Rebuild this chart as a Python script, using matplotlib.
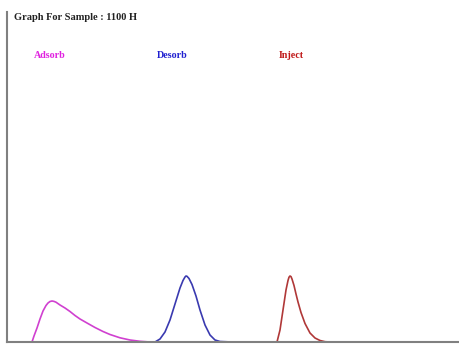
import matplotlib.pyplot as plt

# peak traces (x = time position, y = signal)
adsorb_x = [32, 34, 37, 40, 43, 46, 48, 50, 52, 54, 56, 60, 65, 70, 75, 80, 87, 95, 103, 110, 120, 130, 140, 150]
adsorb_y = [0, 6, 14, 23, 31, 36.5, 39, 40.5, 41, 40.6, 39.8, 37, 34, 30.5, 26.5, 23, 19, 14.5, 10.5, 7.5, 4.2, 2, 0.7, 0]

desorb_x = [155, 160, 165, 170, 175, 180, 183, 185, 186, 187, 189, 192, 196, 200, 205, 210, 215, 220, 232]
desorb_y = [0, 3, 10, 22, 38, 54, 61.5, 65, 66, 65.7, 63.5, 57.5, 46, 32, 17, 7, 2, 0.5, 0]

inject_x = [277, 280, 283, 286, 288, 289, 290, 291, 292, 294, 296, 298, 301, 305, 310, 315, 320, 325, 330]
inject_y = [0, 12, 32, 52, 61.5, 64.8, 66, 65.4, 63, 56.5, 48, 40, 29.5, 18.5, 9, 4, 1.5, 0.3, 0]

labels = ['Adsorb', 'Desorb', 'Inject']
label_x = [50, 172, 291]
colors = ['#d040d0', '#3a3ab0', '#b03838']
text_colors = ['#e020e0', '#2020d0', '#c01818']

fig = plt.figure(figsize=(4.6, 3.62), dpi=100)
ax = fig.add_axes([7 / 460, 20 / 362, 453 / 460, 330 / 362])

ax.plot(adsorb_x, adsorb_y, color=colors[0], lw=1.2)
ax.plot(desorb_x, desorb_y, color=colors[1], lw=1.2)
ax.plot(inject_x, inject_y, color=colors[2], lw=1.2)

ax.set_xlim(7, 460)
ax.set_ylim(0, 330)
for s in ['top', 'right']:
    ax.spines[s].set_visible(False)
for s in ['left', 'bottom']:
    ax.spines[s].set_color('#808080')
    ax.spines[s].set_linewidth(1.5)
ax.set_xticks([])
ax.set_yticks([])

ax.text(14, 324, 'Graph For Sample : 1100 H', family='Liberation Serif',
        fontweight='bold', fontsize=7.5, color='#222222', va='center', ha='left')
for name, lx, c in zip(labels, label_x, text_colors):
    ax.text(lx, 287, name, family='Liberation Serif', fontweight='bold',
            fontsize=7.2, color=c, ha='center', va='center')

fig.savefig('out.png', dpi=100)
